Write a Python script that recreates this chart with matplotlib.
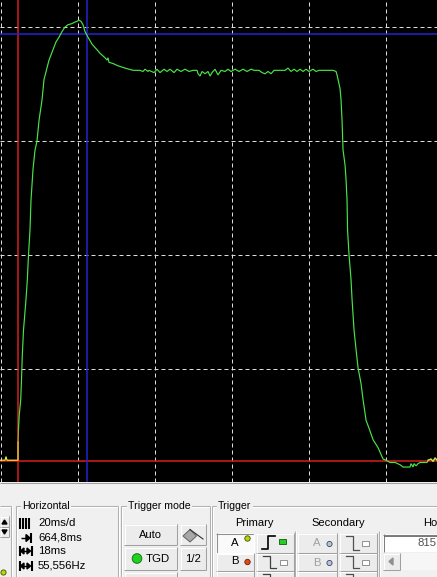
import matplotlib
matplotlib.use('Agg')
import matplotlib.pyplot as plt
from matplotlib.patches import Rectangle, Polygon, Circle

plt.rcParams['font.family'] = ['Liberation Sans', 'DejaVu Sans']

# ---------------- data (time in ms, amplitude in divisions) ----------------
grid_t = [0, 20, 40, 60, 80, 100]
grid_v = [1, 2, 3, 4]
cursor_t = [4.4, 22.4]      # red, blue vertical cursors (18 ms apart)
cursor_v = [0.19, 3.94]     # red, blue horizontal cursors

pre_t = [-0.3, 1.04, 1.30, 1.56, 4.16, 4.42, 4.42]
pre_v = [0.20, 0.20, 0.23, 0.20, 0.20, 0.20, 0.36]
olive_t = [4.42, 4.55]
olive_v = [0.36, 0.48]

trace_t = [4.55, 4.75, 5.12, 5.32, 5.53, 5.84, 6.49, 6.83, 7.14, 7.53, 7.79, 8.31,
           8.83, 9.35, 9.87, 10.65, 11.17, 12.47, 13.51, 14.29, 15.06, 15.84, 16.62,
           17.40, 18.44, 18.96, 19.74, 20.26, 20.78, 21.30, 21.82, 22.60, 23.64, 24.94,
           25.71, 27.01, 27.53, 27.79, 28.05, 29.09, 30.39, 32.21, 34.29, 36.10, 36.88,
           37.40, 38.18, 38.44, 39.74, 40.52, 41.30, 42.34, 43.12, 43.90, 44.94, 45.71,
           46.75, 47.79, 48.83, 49.87, 50.91, 51.17, 51.69, 52.21, 52.99, 53.77, 54.29,
           54.81, 55.58, 56.36, 57.14, 58.18, 58.96, 59.74, 60.78, 61.82, 62.86, 63.90,
           64.94, 65.71, 67.01, 67.79, 68.57, 69.35, 70.13, 70.91, 72.21, 73.77, 74.55,
           75.32, 76.10, 76.88, 77.66, 78.44, 79.22, 80.00, 81.04, 81.82, 82.60, 84.16,
           86.23, 87.01, 87.27, 87.53, 88.05, 88.31, 88.57, 88.83, 89.35, 89.61, 89.87,
           90.00, 90.39, 90.91, 91.17, 91.69, 92.21, 92.73, 93.51, 94.03, 94.81, 95.58,
           96.62, 97.92, 98.70, 99.22, 100.00, 101.04, 102.34, 103.64, 104.42, 106.23,
           106.49, 107.01, 107.27, 107.79, 108.31, 108.83, 110.65, 110.91, 111.69,
           112.21, 112.73, 113.25]
trace_v = [0.48, 0.60, 0.73, 0.90, 1.12, 1.34, 1.61, 1.78, 2.00, 2.22, 2.48, 2.75,
           2.92, 3.00, 3.18, 3.36, 3.54, 3.71, 3.80, 3.87, 3.91, 3.96, 4.00,
           4.02, 4.03, 4.04, 4.05, 4.06, 4.05, 4.02, 3.96, 3.91, 3.85, 3.80,
           3.77, 3.73, 3.71, 3.73, 3.69, 3.68, 3.66, 3.64, 3.62, 3.62, 3.61,
           3.63, 3.61, 3.62, 3.60, 3.63, 3.60, 3.63, 3.61, 3.63, 3.60, 3.63,
           3.61, 3.63, 3.61, 3.62, 3.62, 3.59, 3.57, 3.61, 3.59, 3.61, 3.57,
           3.60, 3.63, 3.58, 3.62, 3.61, 3.63, 3.61, 3.63, 3.61, 3.63, 3.61,
           3.63, 3.62, 3.62, 3.60, 3.59, 3.61, 3.59, 3.62, 3.62, 3.62, 3.64,
           3.61, 3.63, 3.61, 3.63, 3.61, 3.63, 3.61, 3.63, 3.61, 3.62, 3.62,
           3.62, 3.61, 3.58, 3.54, 3.46, 3.36, 3.18, 2.92, 2.79, 2.66, 2.48,
           2.22, 2.00, 1.78, 1.61, 1.34, 1.17, 1.01, 0.87, 0.73, 0.55, 0.48,
           0.38, 0.31, 0.25, 0.21, 0.20, 0.18, 0.18, 0.16, 0.14, 0.14,
           0.17, 0.14, 0.17, 0.15, 0.17, 0.18, 0.18, 0.20, 0.21,
           0.19, 0.22, 0.20]
tail_t = [110.91, 111.69, 112.21, 112.73, 113.25]
tail_v = [0.20, 0.21, 0.19, 0.22, 0.20]

horiz_labels = ['20ms/d', '664,8ms', '18ms', '55,556Hz']

# ---------------- figure ----------------
W, H = 437, 577
PT = 482
fig = plt.figure(figsize=(W / 100, H / 100), dpi=100)
fig.patch.set_facecolor('#f0f0f0')

ax = fig.add_axes([0, (H - PT) / H, 1, PT / H])
ax.set_facecolor('black')
ax.set_xlim(-0.26, 113.23)
ax.set_ylim(0.0088, 4.237)
ax.set_xticks([]); ax.set_yticks([])
for s in ax.spines.values():
    s.set_visible(False)

for t in grid_t:
    ax.axvline(t, color='#dcdcdc', lw=0.72, dashes=(4, 3), zorder=1)
for v in grid_v:
    ax.axhline(v, color='#dcdcdc', lw=0.72, dashes=(4, 3), zorder=1)

ax.axvline(cursor_t[0], color='#d81e1e', lw=1.1, zorder=2)
ax.axhline(cursor_v[0], color='#d81e1e', lw=1.1, zorder=2)
ax.axvline(cursor_t[1], color='#2424d0', lw=1.1, zorder=2)
ax.axhline(cursor_v[1], color='#2424d0', lw=1.1, zorder=2)

ax.plot(trace_t, trace_v, color='#48e448', lw=0.85, zorder=3, solid_joinstyle='miter')
ax.plot(pre_t, pre_v, color='#f0f040', lw=0.85, zorder=4)
ax.plot(olive_t, olive_v, color='#a0b030', lw=0.85, zorder=4)
ax.plot(tail_t, tail_v, color='#d8e840', lw=0.85, zorder=4)

# ---------------- control panel (pixel coordinates) ----------------
pan = fig.add_axes([0, 0, 1, (H - PT) / H])
pan.set_xlim(0, W)
pan.set_ylim(H, PT)
pan.axis('off')
BG = '#f0f0f0'
pan.add_patch(Rectangle((0, PT), W, H - PT, facecolor=BG, edgecolor='none', zorder=0))
FS = 7.6


def hl(x0, x1, y, c, lw=0.75, z=2):
    pan.plot([x0, x1], [y, y], color=c, lw=lw, solid_capstyle='butt', zorder=z)


def vl(x, y0, y1, c, lw=0.75, z=2):
    pan.plot([x, x], [y0, y1], color=c, lw=lw, solid_capstyle='butt', zorder=z)


hl(0, W, PT + 0.5, '#a0a0a0')


def group(x0, x1, top, label=None, lx=None):
    hl(x0, x1, top, '#b0b0b0')
    hl(x0 + 1, x1, top + 1, 'white')
    vl(x0, top, H + 2, '#b0b0b0')
    vl(x0 + 1, top + 1, H + 2, 'white')
    vl(x1, top, H + 2, '#b0b0b0')
    vl(x1 + 1, top, H + 2, 'white')
    if label:
        pan.text(lx, top, label, fontsize=FS, va='center', ha='left', color='black',
                 bbox=dict(facecolor=BG, edgecolor='none', pad=1.0), zorder=5)


def button(x0, y0, x1, y1, pressed=False, fc='#ececec'):
    pan.add_patch(Rectangle((x0, y0), x1 - x0, y1 - y0,
                            facecolor='#fafafa' if pressed else fc,
                            edgecolor='none', zorder=1))
    tl, br = ('#909090', 'white') if pressed else ('white', '#a0a0a0')
    hl(x0, x1, y0 + 0.5, tl)
    vl(x0 + 0.5, y0, y1, tl)
    hl(x0, x1, y1 - 0.5, br)
    vl(x1 - 0.5, y0, y1, br)


# left partial group
hl(0, 11, 506, '#b0b0b0'); hl(0, 11, 507, 'white')
vl(11, 506, H + 2, '#b0b0b0'); vl(12, 506, H + 2, 'white')
button(0, 516, 9, 527)
button(0, 527, 9, 537)
pan.add_patch(Polygon([(2, 524), (4.5, 520), (7, 524)], closed=True, color='black', zorder=3))
pan.add_patch(Polygon([(2, 530), (4.5, 534), (7, 530)], closed=True, color='black', zorder=3))
pan.add_patch(Circle((3.5, 572.5), 2.6, facecolor='#b8d800', edgecolor='#405000', lw=0.6, zorder=3))

# Horizontal group
group(16, 118, 506, 'Horizontal', 22)
for bx in [19.5, 22.5, 25.5, 28.5]:
    vl(bx, 518, 529, 'black', lw=1.5)
hl(21, 28, 538, 'black', lw=1.0)
pan.add_patch(Polygon([(26, 534.5), (30, 538), (26, 541.5)], closed=True, color='black', zorder=3))
vl(31, 533, 543, 'black', lw=1.5)
for ry in [551, 566]:
    vl(19.5, ry - 5, ry + 5, 'black', lw=1.5)
    vl(31.5, ry - 5, ry + 5, 'black', lw=1.5)
    hl(22, 29, ry, 'black', lw=1.0)
    pan.add_patch(Polygon([(20.5, ry), (24, ry - 3), (24, ry + 3)], closed=True, color='black', zorder=3))
    pan.add_patch(Polygon([(30.5, ry), (27, ry - 3), (27, ry + 3)], closed=True, color='black', zorder=3))
for lab, ry in zip(horiz_labels, [523, 538, 551, 566]):
    pan.text(38, ry, lab, fontsize=FS + 0.6, va='center', ha='left', color='black', zorder=5)

# Trigger mode group
group(121, 210, 506, 'Trigger mode', 128)
button(124, 524, 177, 545)
pan.text(150.5, 534.5, 'Auto', fontsize=FS + 0.4, ha='center', va='center', zorder=5)
button(180, 524, 206, 545)
pan.add_patch(Polygon([(183, 536), (190, 529.5), (196.5, 536), (190, 542)], closed=True,
                      facecolor='#a8a8a8', edgecolor='#606060', lw=0.7, zorder=3))
pan.plot([190, 203], [529.5, 539], color='#303030', lw=0.8, zorder=3)
button(124, 547, 177, 570)
pan.add_patch(Circle((137, 558.5), 4.8, facecolor='#22d022', edgecolor='#0e7a0e', lw=0.7, zorder=3))
pan.text(158, 558.5, 'TGD', fontsize=FS + 0.6, ha='center', va='center', zorder=5)
button(180, 547, 206, 570)
pan.text(193, 558.5, '1/2', fontsize=FS + 0.6, ha='center', va='center', zorder=5)
button(124, 572, 177, 590)

# Trigger group
group(212, 460, 506, 'Trigger', 218)
pan.text(254, 523, 'Primary', fontsize=FS + 0.4, ha='center', va='center', zorder=5)
pan.text(338, 523, 'Secondary', fontsize=FS + 0.4, ha='center', va='center', zorder=5)
pan.text(423, 523, 'Ho', fontsize=FS + 0.4, ha='left', va='center', zorder=5)
vl(295, 531, H + 2, '#b0b0b0'); vl(296, 531, H + 2, 'white')
vl(379, 531, H + 2, '#b0b0b0'); vl(380, 531, H + 2, 'white')

button(216, 533, 254, 553, pressed=True)
pan.text(235, 543.5, 'A', fontsize=FS + 0.6, ha='center', va='center', zorder=5)
pan.add_patch(Circle((247.5, 538.5), 2.7, facecolor='#b8d800', edgecolor='#405000', lw=0.6, zorder=3))
button(256, 533, 294, 553)
pan.plot([262, 268, 268, 275], [549, 549, 536, 536], color='black', lw=1.2, zorder=3)
pan.add_patch(Rectangle((279, 539), 7, 5, facecolor='#22d022', edgecolor='#0e5a0e', lw=0.6, zorder=3))

button(216, 553, 254, 571)
pan.text(235, 561.5, 'B', fontsize=FS + 0.6, ha='center', va='center', zorder=5)
pan.add_patch(Circle((247.5, 562), 2.7, facecolor='#e04818', edgecolor='#702000', lw=0.6, zorder=3))
button(256, 553, 294, 571)
pan.plot([263, 270, 270, 276], [556, 556, 568, 568], color='#404040', lw=0.9, zorder=3)
pan.add_patch(Rectangle((280, 559.5), 7, 5, facecolor='white', edgecolor='#808080', lw=0.6, zorder=3))
button(216, 571, 254, 590)
button(256, 571, 294, 590)
pan.plot([263, 270, 270], [574, 574, 580], color='#404040', lw=0.9, zorder=3)

for ry0, ry1, lab in [(533, 553, 'A'), (553, 571, 'B')]:
    cy = (ry0 + ry1) / 2 + 0.5
    button(297, ry0, 337, ry1)
    pan.text(317, cy, lab, fontsize=FS + 0.6, ha='center', va='center', color='#a0a0a0', zorder=5)
    pan.add_patch(Circle((329.5, cy + 0.5), 2.6, facecolor='#b4c4dc', edgecolor='#404860', lw=0.6, zorder=3))
    button(339, ry0, 377, ry1)
    pan.plot([346, 353, 353, 359], [ry0 + 3, ry0 + 3, ry1 - 3, ry1 - 3], color='#505050', lw=0.9, zorder=3)
    pan.add_patch(Rectangle((362, cy - 2.5), 7, 5, facecolor='white', edgecolor='#808080', lw=0.6, zorder=3))
button(297, 571, 337, 590)
button(339, 571, 377, 590)
pan.plot([346, 353, 353], [574, 574, 580], color='#505050', lw=0.9, zorder=3)

# text field
pan.add_patch(Rectangle((383, 534), 60, 18, facecolor='white', edgecolor='none', zorder=1))
hl(383, W, 534.5, '#808080'); vl(383.5, 534, 552, '#808080')
hl(384, W, 535.5, '#404040', lw=0.5)
pan.text(436, 543.5, '815', fontsize=FS + 0.6, ha='right', va='center', color='#505050', zorder=5)
# scrollbar
pan.add_patch(Rectangle((383, 553), 60, 17, facecolor='#f6f6f6', edgecolor='none', zorder=1))
button(383, 553, 400, 570)
pan.add_patch(Polygon([(389, 561.5), (393, 558), (393, 565)], closed=True, color='#909090', zorder=3))

fig.savefig('out.png', dpi=100, facecolor=fig.get_facecolor())
